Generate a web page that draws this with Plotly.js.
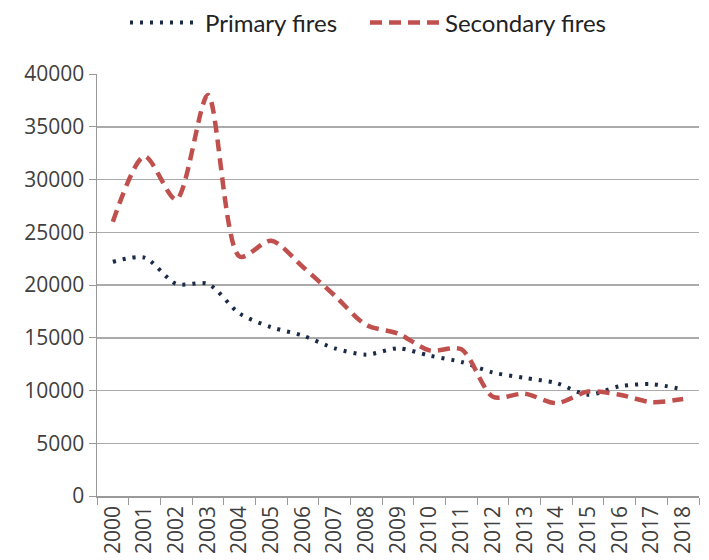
<!DOCTYPE html>
<html><head><meta charset="utf-8">
<script src="https://cdn.plot.ly/plotly-3.0.1.min.js"></script>
<style>html,body{margin:0;padding:0;background:#fff}#chart{width:709px;height:560px}</style>
</head><body><div id="chart"></div>
<script>
const years = ["2000","2001","2002","2003","2004","2005","2006","2007","2008","2009","2010","2011","2012","2013","2014","2015","2016","2017","2018"];
const primaryFires = [22200,22600,20100,20100,17300,16000,15200,14000,13400,14000,13300,12700,11700,11200,10700,9600,10400,10600,10100];
const secondaryFires = [26000,32200,28100,38000,22700,24200,21700,19000,16200,15400,13800,13900,9400,9700,8800,9900,9600,8900,9200];
const yTicks = [0,5000,10000,15000,20000,25000,30000,35000,40000];

const traces = [
  {x: years, y: primaryFires, name: "Primary fires", type: "scatter", mode: "lines", legend: "legend",
   line: {color: "#1b2a47", width: 4, dash: "3px,7px", shape: "spline", smoothing: 0.8}},
  {x: years, y: secondaryFires, name: "Secondary fires", type: "scatter", mode: "lines", legend: "legend2",
   line: {color: "#c0504d", width: 4.5, dash: "12px,7px", shape: "spline", smoothing: 0.8}}
];
const font = "'Open Sans', 'Noto Sans', sans-serif";
const legFont = {family: "Lato, 'Open Sans', sans-serif", size: 24, color: "#222"};
const layout = {
  width: 709, height: 560,
  margin: {l: 97, r: 10, t: 74, b: 64, autoexpand: false},
  paper_bgcolor: "#fff", plot_bgcolor: "#fff",
  showlegend: true,
  legend: {orientation: "h", xref: "container", yref: "container", x: 125/709, xanchor: "left",
           y: 1 - 23/560, yanchor: "middle", font: legFont, itemwidth: 70, bgcolor: "rgba(0,0,0,0)"},
  legend2: {orientation: "h", xref: "container", yref: "container", x: 365/709, xanchor: "left",
           y: 1 - 23/560, yanchor: "middle", font: legFont, itemwidth: 70, bgcolor: "rgba(0,0,0,0)"},
  xaxis: {type: "category", tickson: "boundaries", ticks: "outside", ticklen: 7, tickcolor: "#999",
          tickangle: -90, tickfont: {family: font, size: 21, color: "#404040"},
          showgrid: false, showline: true, linecolor: "#999", linewidth: 1.5,
          range: [-0.5, 18.5], automargin: false, zeroline: false},
  yaxis: {range: [0, 40000], tickvals: yTicks, ticktext: yTicks.map(String),
          ticks: "outside", ticklen: 7, tickcolor: "#999",
          tickfont: {family: font, size: 21, color: "#404040"},
          showgrid: true, gridcolor: "#aaaaaa", gridwidth: 1.5,
          showline: true, linecolor: "#999", linewidth: 1.5, zeroline: false, automargin: false}
};
Plotly.newPlot("chart", traces, layout, {staticPlot: true, displayModeBar: false});
</script></body></html>
